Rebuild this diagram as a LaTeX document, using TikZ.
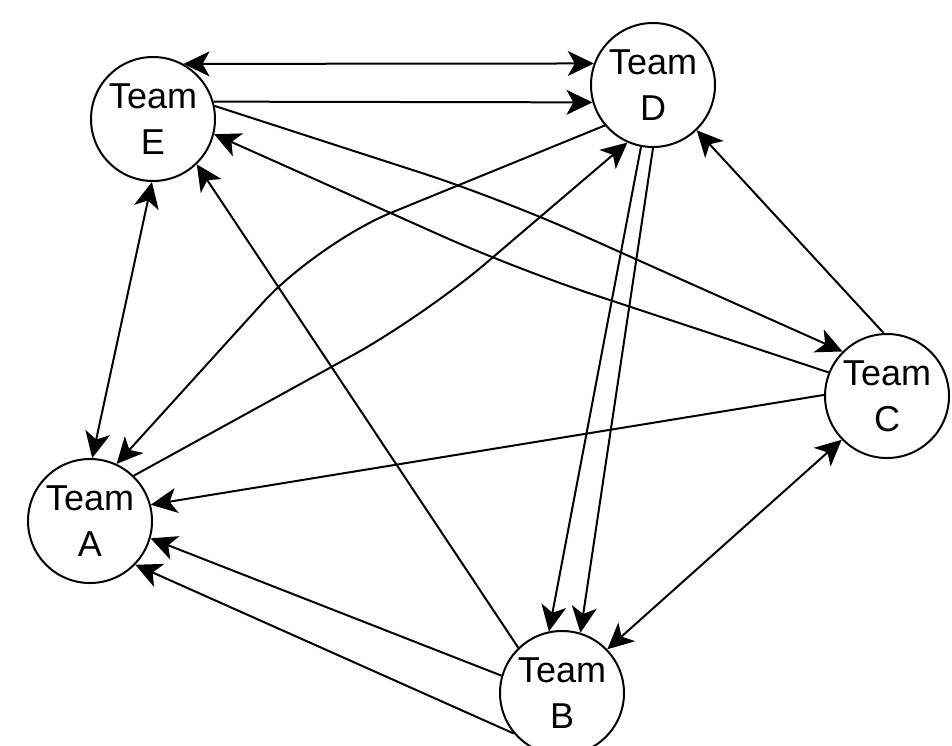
\documentclass[tikz,border=0pt]{standalone}
\usepackage{fontspec}
\setmainfont{Liberation Sans}
\usetikzlibrary{arrows.meta}

\begin{document}
\begin{tikzpicture}[x=0.5pt, y=-0.5pt, line width=1pt,
  team/.style={circle, draw, minimum size=62pt, inner sep=0pt, align=center,
    font=\fontsize{18}{23}\selectfont},
  link/.style={-{Stealth[length=13pt, width=12.5pt, inset=3.5pt]}},
  both/.style={{Stealth[length=13pt, width=12.5pt, inset=3.5pt]}-{Stealth[length=13pt, width=12.5pt, inset=3.5pt]}},
  bendline/.style={rounded corners=40pt}]

  \useasboundingbox (0, 0) rectangle (952, 745);

  \node[team] (E) at (153, 119) {Team\\E};
  \node[team] (D) at (653, 85) {Team\\D};
  \node[team] (C) at (887, 396) {Team\\C};
  \node[team] (A) at (90, 521) {Team\\A};
  \node[team] (B) at (562, 693) {Team\\B};

  \coordinate (ec) at (499, 198);
  \coordinate (ce) at (516, 269);
  \coordinate (da) at (317, 243);
  \coordinate (ad) at (424, 316);

  \draw[both] (E.61) -- (D.160);
  \draw[link] (E.16) -- (D.196);
  \draw[link, bendline] (E.12) -- (ec) -- (C.135);
  \draw[link, bendline] (C.158) -- (ce) -- (E.346);
  \draw[link, bendline] (D.220) -- (da) -- (A.65);
  \draw[link, bendline] (A.46) -- (ad) -- (D.246);
  \draw[both] (E.269) -- (A.88);
  \draw[link] (B.134) -- (E.314);

  \draw[link] (C.179) -- (A.15);
  \draw[both] (C.224) -- (B.44);
  \draw[link] (C.93) -- (D.314);

  \draw[link] (D.259) -- (B.102);
  \draw[link] (D.270) -- (B.73);
  \draw[link] (B.164) -- (A.344);
  \draw[link] (B.220) -- (A.316);

\end{tikzpicture}
\end{document}
